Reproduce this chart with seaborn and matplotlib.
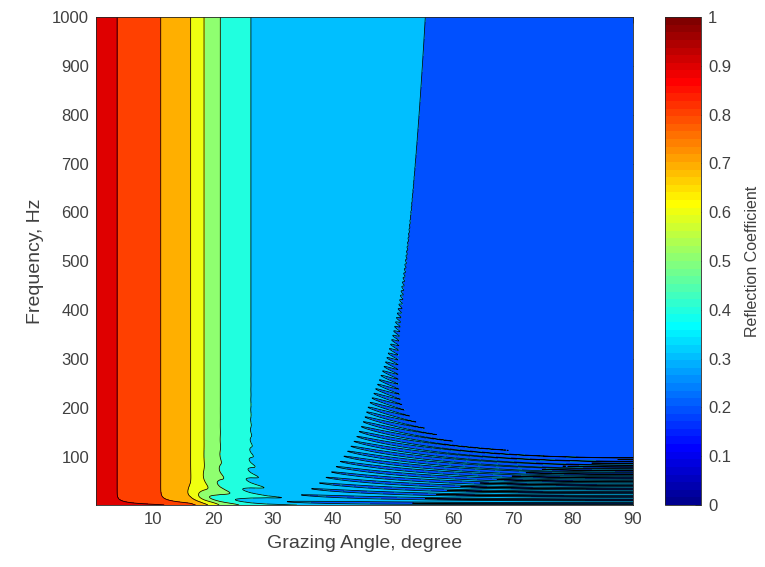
import numpy as np
import matplotlib
matplotlib.use("Agg")
import matplotlib.pyplot as plt
import seaborn as sns
from matplotlib.colors import ListedColormap, Normalize
from matplotlib.cm import ScalarMappable

# ---------------- data ----------------
# high-frequency (half-space) reflection coefficient vs grazing angle
angle_knots = [0.0, 4.0, 11.3, 16.3, 18.5, 21.2, 26.3, 29.0, 33.0, 40.0, 47.0, 53.0, 60.0, 75.0, 90.0]
halfspace_R = [1.0, 0.9, 0.8, 0.7, 0.6, 0.5, 0.4, 0.37, 0.352, 0.332, 0.313, 0.30, 0.285, 0.268, 0.262]
# reflection at the sub-bottom (basement) interface vs grazing angle
basement_angles = [0.0, 10.0, 16.0, 22.0, 27.0, 35.0, 45.0, 60.0, 90.0]
basement_R = [0.6, 0.5, 0.35, 0.1, 0.065, 0.07, 0.08, 0.115, 0.13]
# layer parameters
c_water = 1500.0          # m/s
c_layer = 1560.0          # m/s
fringe_spacing_90 = 7.5   # Hz, interference fringe spacing at normal incidence
decay_freq_90 = 110.0     # Hz, e-folding frequency of the layer echo at normal incidence
drift_amp = 0.010         # slow frequency drift of the 0.3 contour

contour_levels = [0.0, 0.1, 0.2, 0.3, 0.4, 0.5, 0.6, 0.7, 0.8, 0.9, 1.0]
cbar_ticks = [0.0, 0.1, 0.2, 0.3, 0.4, 0.5, 0.6, 0.7, 0.8, 0.9, 1.0]
cbar_labels = ["0", "0.1", "0.2", "0.3", "0.4", "0.5", "0.6", "0.7", "0.8", "0.9", "1"]
x_ticks = [10, 20, 30, 40, 50, 60, 70, 80, 90]
y_ticks = [100, 200, 300, 400, 500, 600, 700, 800, 900, 1000]
angle_range = (0.5, 90.0)
freq_range = (1.0, 1000.0)

# ---------------- MATLAB-like jet(64) ----------------
def matlab_jet(m=64):
    n = int(np.ceil(m / 4))
    u = np.concatenate([np.arange(1, n + 1) / n, np.ones(n - 1), np.arange(n, 0, -1) / n])
    g = int(np.ceil(n / 2)) - (1 if m % 4 == 1 else 0) + np.arange(1, len(u) + 1)
    r = g + n
    b = g - n
    J = np.zeros((m, 3))
    ok = (r >= 1) & (r <= m); J[r[ok] - 1, 0] = u[ok]
    ok = (g >= 1) & (g <= m); J[g[ok] - 1, 1] = u[ok]
    ok = (b >= 1) & (b <= m); J[b[ok] - 1, 2] = u[ok]
    return ListedColormap(J)

jet64 = matlab_jet(64)

# ---------------- field ----------------
theta = np.linspace(angle_range[0], angle_range[1], 700)
freq = np.linspace(freq_range[0], freq_range[1], 2400)
TH, F = np.meshgrid(theta, freq)

w = np.interp(TH, [30.0, 42.0], [0.0, 1.0])
R01 = np.interp(TH, angle_knots, halfspace_R) + drift_amp * w * np.log(np.clip(F, 200, None) / 600.0)
R12 = np.interp(TH, basement_angles, basement_R)

h = c_layer / (2 * fringe_spacing_90)
delta = c_layer / (4 * np.pi * decay_freq_90 * h)
omega = 2 * np.pi * F
k0x = omega * np.cos(np.radians(TH)) / c_water
k1 = omega / c_layer * (1 + 1j * delta)
k1z = np.sqrt(k1 ** 2 - k0x ** 2 + 0j)
E = np.exp(2j * k1z * h)
R = np.abs((R01 + R12 * E) / (1 + R01 * R12 * E))

# ---------------- plot ----------------
sns.set_style("white")
plt.rcParams["font.family"] = ["Liberation Sans", "DejaVu Sans"]
text_col = "#404040"

fig = plt.figure(figsize=(7.65, 5.67), dpi=100)
ax = fig.add_axes([96 / 765, 1 - 505 / 567, (633 - 96) / 765, (505 - 17) / 567])
cax = fig.add_axes([665 / 765, 1 - 505 / 567, 36 / 765, (505 - 17) / 567])

fill_colors = [jet64(v) for v in contour_levels[:-1]]
ax.contourf(theta, freq, R, levels=contour_levels, colors=fill_colors)
ax.contour(theta, freq, R, levels=contour_levels, colors="k", linewidths=0.55)

ax.set_xlim(*angle_range)
ax.set_ylim(*freq_range)
ax.set_xticks(x_ticks)
ax.set_yticks(y_ticks)
ax.tick_params(direction="in", top=True, right=True, length=4, width=0.6,
               labelsize=12, colors=text_col, pad=5)
ax.set_xlabel("Grazing Angle, degree", fontsize=14, color=text_col, labelpad=6)
ax.set_ylabel("Frequency, Hz", fontsize=14, color=text_col, labelpad=6)
for s in ax.spines.values():
    s.set_color("#262626")
    s.set_linewidth(0.6)

sm = ScalarMappable(norm=Normalize(0, 1), cmap=jet64)
cb = fig.colorbar(sm, cax=cax, ticks=cbar_ticks)
cb.ax.set_yticklabels(cbar_labels)
cb.ax.tick_params(direction="in", length=4, width=0.6, labelsize=12, colors=text_col, pad=5)
cb.outline.set_color("#262626")
cb.outline.set_linewidth(0.6)
cb.set_label("Reflection Coefficient", fontsize=11.5, color=text_col, labelpad=10)

fig.savefig("out.png", dpi=100)
